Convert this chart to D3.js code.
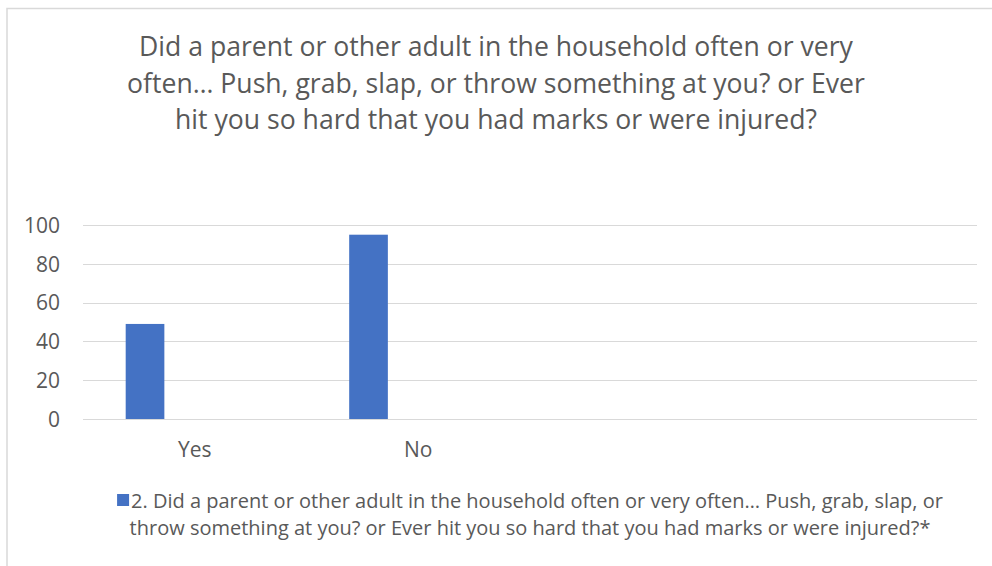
<!DOCTYPE html>
<html>
<head>
<meta charset="utf-8">
<script src="https://cdn.jsdelivr.net/npm/d3@7"></script>
<style>
  html, body { margin: 0; padding: 0; background: #fff; }
  svg { display: block; font-family: "Open Sans", "Noto Sans", sans-serif; }
</style>
</head>
<body>
<svg id="chart" width="992" height="566"></svg>
<script>
// Category axis (two answered categories, two empty slots)
const categories = ["Yes", "No", "", ""];
// Series values per category
const seriesValues = [49, 95, null, null];
// Y axis ticks
const yTicks = [0, 20, 40, 60, 80, 100];

const titleLines = [
  "Did a parent or other adult in the household often or very",
  "often… Push, grab, slap, or throw something at you? or Ever",
  "hit you so hard that you had marks or were injured?"
];
const legendLines = [
  "2. Did a parent or other adult in the household often or very often… Push, grab, slap, or",
  "throw something at you? or Ever hit you so hard that you had marks or were injured?*"
];

const svg = d3.select("#chart");
const W = 992, H = 566;
const textColor = "#595959";
const gridColor = "#d9d9d9";
const barColor = "#4472c4";

// chart area border
svg.append("rect")
  .attr("x", 7).attr("y", 8.5)
  .attr("width", W + 10).attr("height", H + 10)
  .attr("fill", "#fff")
  .attr("stroke", gridColor).attr("stroke-width", 1.5);

// title, one line per tspan
svg.append("text")
  .attr("text-anchor", "middle")
  .attr("fill", textColor)
  .attr("font-size", 26.6)
  .selectAll("tspan")
  .data(titleLines)
  .join("tspan")
  .attr("x", 496)
  .attr("y", (d, i) => 56 + i * 36.5)
  .text(d => d);

const plot = { left: 83, right: 977, top: 225, bottom: 419 };

const x = d3.scaleBand()
  .domain(categories.map((c, i) => i))
  .range([plot.left, plot.right])
  .paddingInner(0).paddingOuter(0);

const y = d3.scaleLinear()
  .domain([0, 100])
  .range([plot.bottom, plot.top]);

// gridlines
svg.append("g").selectAll("line")
  .data(yTicks)
  .join("line")
  .attr("x1", plot.left).attr("x2", plot.right)
  .attr("y1", d => Math.round(y(d)) + 0.5)
  .attr("y2", d => Math.round(y(d)) + 0.5)
  .attr("stroke", gridColor)
  .attr("stroke-width", 1.2);

// y axis labels
const yAxis = d3.axisLeft(y).tickValues(yTicks).tickSize(0).tickPadding(0);
const yg = svg.append("g")
  .attr("transform", `translate(${plot.left - 23},0)`)
  .call(yAxis);
yg.select(".domain").remove();
yg.selectAll("text")
  .attr("fill", textColor)
  .attr("font-size", 21)
  .attr("font-family", "\"Open Sans\", sans-serif")
  .attr("dy", "0.35em");

// bars: first series slot within each category band
const bw = x.bandwidth();
const barOffset = bw * 0.191;
const barWidth = bw * 0.173;
svg.append("g").selectAll("rect")
  .data(seriesValues.map((v, i) => ({ i, v })).filter(d => d.v != null))
  .join("rect")
  .attr("x", d => x(d.i) + barOffset)
  .attr("y", d => y(d.v))
  .attr("width", barWidth)
  .attr("height", d => y(0) - y(d.v))
  .attr("fill", barColor);

// x axis labels
const xAxis = d3.axisBottom(x).tickFormat(i => categories[i]).tickSize(0).tickPadding(0);
const xg = svg.append("g")
  .attr("transform", `translate(0,457)`)
  .call(xAxis);
xg.select(".domain").remove();
xg.selectAll("text")
  .attr("fill", textColor)
  .attr("font-size", 21)
  .attr("font-family", "\"Open Sans\", sans-serif")
  .attr("dy", 0);

// legend, centred under the plot area: swatch + first line as one block
const legendCenter = (plot.left + plot.right) / 2;
const legend = svg.append("g");
const swatch = 12, swatchGap = 2;
const line1 = legend.append("text")
  .attr("y", 508)
  .attr("fill", textColor)
  .attr("font-size", 20)
  .text(legendLines[0]);
const w1 = line1.node().getComputedTextLength();
const blockLeft = legendCenter - (swatch + swatchGap + w1) / 2;
line1.attr("x", blockLeft + swatch + swatchGap);
legend.append("rect")
  .attr("x", blockLeft).attr("y", 494)
  .attr("width", swatch).attr("height", swatch)
  .attr("fill", barColor);
legend.append("text")
  .attr("x", legendCenter).attr("y", 535)
  .attr("text-anchor", "middle")
  .attr("fill", textColor)
  .attr("font-size", 20)
  .text(legendLines[1]);
</script>
</body>
</html>
